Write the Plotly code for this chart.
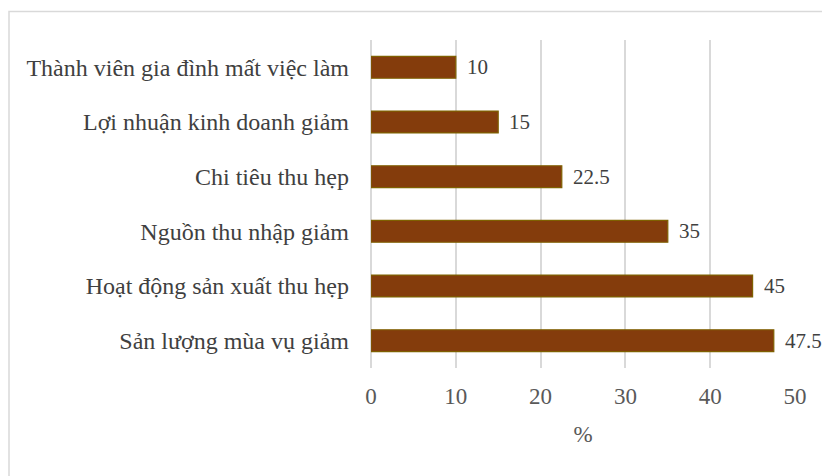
import plotly.graph_objects as go

categories = [
    "Sản lượng mùa vụ giảm",
    "Hoạt động sản xuất thu hẹp",
    "Nguồn thu nhập giảm",
    "Chi tiêu thu hẹp",
    "Lợi nhuận kinh doanh giảm",
    "Thành viên gia đình mất việc làm",
]
values = [47.5, 45, 35, 22.5, 15, 10]
value_labels = ["47.5", "45", "35", "22.5", "15", "10"]
x_ticks = [0, 10, 20, 30, 40, 50]

FONT = "Liberation Serif, Times New Roman, serif"
TXT = "#595959"
FS = 24

# plot area in figure pixels (page has an 8px body offset)
PL, PR, PT, PB = 363, 787, 31.6, 360.4
PW, PH = PR - PL, PB - PT

fig = go.Figure(go.Bar(
    y=categories, x=values, orientation="h",
    marker=dict(color="#843C0C", line=dict(color="#7F6000", width=1.2)),
    width=0.4,
))

for c, v, t in zip(categories, values, value_labels):
    fig.add_annotation(
        x=v, y=c, text=t, showarrow=False, xanchor="left", xshift=9,
        font=dict(family=FONT, size=21, color="#404040"),
    )

fig.update_layout(
    width=830, height=476,
    margin=dict(l=PL, r=830 - PR, t=PT, b=476 - PB),
    paper_bgcolor="white", plot_bgcolor="white",
    showlegend=False,
    font=dict(family=FONT, size=FS, color=TXT),
    xaxis=dict(
        range=[0, 50], tickvals=x_ticks, ticktext=[str(t) for t in x_ticks],
        showgrid=True, gridcolor="#D9D9D9", gridwidth=1.5,
        zeroline=True, zerolinecolor="#D9D9D9", zerolinewidth=1.5,
        showline=False, ticks="", ticklabelstandoff=12,
        tickfont=dict(family=FONT, size=23, color=TXT),
        title=dict(text="%", font=dict(family=FONT, size=23, color=TXT), standoff=17),
    ),
    yaxis=dict(
        showgrid=False, ticks="", showline=False, ticklabelstandoff=21,
        tickfont=dict(family=FONT, size=FS, color="#404040"),
    ),
    shapes=[dict(
        type="rect", xref="paper", yref="paper",
        x0=(1 - PL) / PW, x1=(850 - PL) / PW,
        y0=(PB - 500) / PH, y1=(PB - 3) / PH,
        line=dict(color="#D9D9D9", width=1.5), fillcolor="rgba(0,0,0,0)",
        layer="below",
    )],
)

fig.write_html("out.html")
